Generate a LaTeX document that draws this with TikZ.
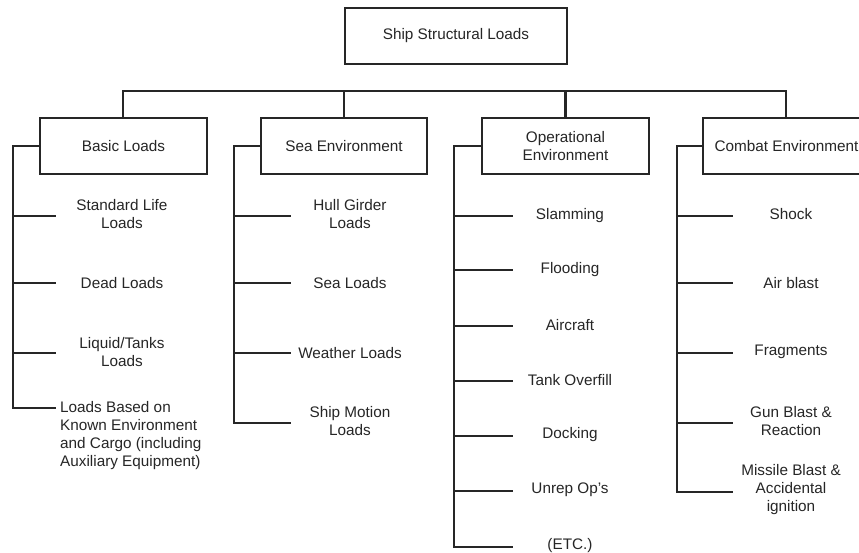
\documentclass[tikz,border=0pt]{standalone}
\usepackage{fontspec}
\setmainfont{Liberation Sans}
\begin{document}
\begin{tikzpicture}[x=1pt,y=-1pt,
  box/.style={draw=black!85,line width=2.8pt,minimum height=56pt,inner sep=0pt,align=center,font=\fontsize{15.3}{18}\selectfont,text=black!85},
  leaf/.style={align=center,inner sep=0pt,font=\fontsize{15.3}{18}\selectfont,text=black!85},
  conn/.style={draw=black!85,line width=2.6pt,line cap=rect}]
\path[use as bounding box] (0,0) rectangle (859,552);
\fill[white] (0,0) rectangle (859,552);
\begin{scope}
\clip (0,0) rectangle (859,552);
% top
\node[box,minimum width=222pt] (top) at (456,36) {Ship Structural Loads};
% category boxes
\node[box,minimum width=167pt] (basic) at (123.5,146) {Basic Loads};
\node[box,minimum width=166pt] (sea) at (344,146) {Sea Environment};
\node[box,minimum width=167pt] (oper) at (565.5,146) {Operational\\Environment};
\node[box,minimum width=167pt] (combat) at (786.5,146) {Combat Environment};
% bus
\coordinate (busL) at (123,91);
\coordinate (busR) at (786,91);
\draw[conn] (busL) -- (busR);
\draw[conn] (busL) -- (basic.north-|busL);
\draw[conn] (sea.north|-busL) -- (sea.north);
\draw[conn] (oper.north|-busL) -- (oper.north);
\draw[conn] (busR) -- (combat.north-|busR);

% Basic loads column
\coordinate (b0) at (13,146);
\foreach \y/\n in {216/b1,283/b2,353/b3,408/b4}{
  \coordinate (\n s) at (13,\y);
  \coordinate (\n e) at (55,\y);
}
\draw[conn] (basic.west) -- (b0) -- (b4s);
\foreach \n in {b1,b2,b3,b4}{\draw[conn] (\n s) -- (\n e);}
\node[leaf] (bl1) at (122,214) {Standard Life\\Loads};
\node[leaf] (bl2) at (122,283) {Dead Loads};
\node[leaf] (bl3) at (122,352) {Liquid/Tanks\\Loads};
\node[leaf,align=left,anchor=north west] (bl4) at (60,401) {Loads Based on\\Known Environment\\and Cargo (including\\Auxiliary Equipment)};

% Sea environment column
\coordinate (s0) at (234,146);
\foreach \y/\n in {216/s1,283/s2,353/s3,423/s4}{
  \coordinate (\n s) at (234,\y);
  \coordinate (\n e) at (290,\y);
}
\draw[conn] (sea.west) -- (s0) -- (s4s);
\foreach \n in {s1,s2,s3,s4}{\draw[conn] (\n s) -- (\n e);}
\node[leaf] (sl1) at (350,214) {Hull Girder\\Loads};
\node[leaf] (sl2) at (350,283) {Sea Loads};
\node[leaf] (sl3) at (350,353) {Weather Loads};
\node[leaf] (sl4) at (350,421) {Ship Motion\\Loads};

% Operational column
\coordinate (o0) at (454,146);
\foreach \y/\n in {216/o1,270/o2,326/o3,381/o4,436/o5,491/o6,547/o7}{
  \coordinate (\n s) at (454,\y);
  \coordinate (\n e) at (512,\y);
}
\draw[conn] (oper.west) -- (o0) -- (o7s);
\foreach \n in {o1,o2,o3,o4,o5,o6,o7}{\draw[conn] (\n s) -- (\n e);}
\node[leaf] (ol1) at (570,216) {Slamming};
\node[leaf] (ol2) at (570,270) {Flooding};
\node[leaf] (ol3) at (570,325) {Aircraft};
\node[leaf] (ol4) at (570,380) {Tank Overfill};
\node[leaf] (ol5) at (570,435) {Docking};
\node[leaf] (ol6) at (570,490) {Unrep Op's};
\node[leaf] (ol7) at (570,546) {(ETC.)};

% Combat column
\coordinate (c0) at (677,146);
\foreach \y/\n in {216/c1,283/c2,353/c3,423/c4,492/c5}{
  \coordinate (\n s) at (677,\y);
  \coordinate (\n e) at (732,\y);
}
\draw[conn] (combat.west) -- (c0) -- (c5s);
\foreach \n in {c1,c2,c3,c4,c5}{\draw[conn] (\n s) -- (\n e);}
\node[leaf] (cl1) at (791,214) {Shock};
\node[leaf] (cl2) at (791,283) {Air blast};
\node[leaf] (cl3) at (791,352) {Fragments};
\node[leaf] (cl4) at (791,421) {Gun Blast \&\\Reaction};
\node[leaf] (cl5) at (791,490) {Missile Blast \&\\Accidental\\ignition};
\end{scope}
\end{tikzpicture}
\end{document}
